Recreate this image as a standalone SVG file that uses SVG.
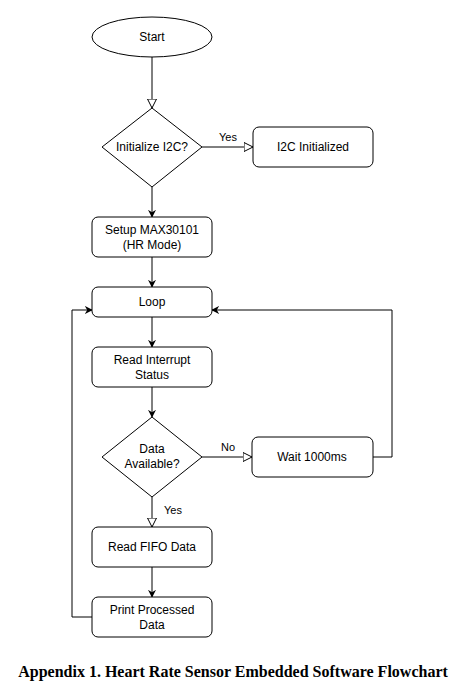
<svg xmlns="http://www.w3.org/2000/svg" width="464" height="684" viewBox="0 0 464 684">
<style>
.n{fill:#fff;stroke:#000;stroke-width:1}
.t{font-family:"Liberation Sans",Arial,sans-serif;font-size:12px;fill:#000;text-anchor:middle;dominant-baseline:central}
.l{font-family:"Liberation Sans",Arial,sans-serif;font-size:11px;fill:#000;text-anchor:middle;dominant-baseline:central}
.c{fill:none;stroke:#000;stroke-width:1}
.cap{font-family:"Liberation Serif","Times New Roman",serif;font-size:16px;font-weight:bold;fill:#000;text-anchor:middle}
</style>
<defs>
<marker id="fa" viewBox="0 0 10 10" refX="9" refY="5" markerWidth="8" markerHeight="8" markerUnits="userSpaceOnUse" orient="auto">
<path d="M0,0 L10,5 L0,10 L3,5 Z" fill="#000"/>
</marker>
<marker id="oa" viewBox="0 0 10 10" refX="9.5" refY="5" markerWidth="10" markerHeight="10" markerUnits="userSpaceOnUse" orient="auto">
<path d="M0.5,0.5 L9.5,5 L0.5,9.5 Z" fill="#fff" stroke="#000" stroke-width="1"/>
</marker>
</defs>
<rect width="464" height="684" fill="#fff"/>
<g id="connectors">
<path class="c" d="M152,57 V108" marker-end="url(#oa)"/>
<path class="c" d="M202,147 H253" marker-end="url(#oa)"/>
<path class="c" d="M152,187 V217" marker-end="url(#fa)"/>
<path class="c" d="M152,257 V287" marker-end="url(#fa)"/>
<path class="c" d="M152,317 V347" marker-end="url(#fa)"/>
<path class="c" d="M152,387 V417" marker-end="url(#fa)"/>
<path class="c" d="M202,457 H252" marker-end="url(#oa)"/>
<path class="c" d="M373,457 H392 V310 H212" marker-end="url(#fa)"/>
<path class="c" d="M152,497 V527" marker-end="url(#oa)"/>
<path class="c" d="M152,567 V597" marker-end="url(#fa)"/>
<path class="c" d="M92,617 H72 V310 H92" marker-end="url(#fa)"/>
<text class="l" x="228" y="137">Yes</text>
<text class="l" x="228" y="447">No</text>
<text class="l" x="173" y="510">Yes</text>
</g>
<g id="start"><ellipse class="n" cx="152" cy="37" rx="60" ry="20"/><text class="t" x="152" y="37">Start</text></g>
<g id="init"><path class="n" d="M152,108 L202,147 L152,187 L102,147 Z"/><text class="t" x="152" y="147">Initialize I2C?</text></g>
<g id="i2cok"><rect class="n" x="253" y="127" width="120" height="40" rx="6"/><text class="t" x="313" y="147">I2C Initialized</text></g>
<g id="setup"><rect class="n" x="92" y="217" width="120" height="40" rx="6"/><text class="t" x="152" y="230">Setup MAX30101</text><text class="t" x="152" y="245">(HR Mode)</text></g>
<g id="loop"><rect class="n" x="92" y="287" width="120" height="30" rx="6"/><text class="t" x="152" y="302">Loop</text></g>
<g id="readint"><rect class="n" x="92" y="347" width="120" height="40" rx="6"/><text class="t" x="152" y="360">Read Interrupt</text><text class="t" x="152" y="375">Status</text></g>
<g id="avail"><path class="n" d="M152,417 L202,457 L152,497 L102,457 Z"/><text class="t" x="152" y="449">Data</text><text class="t" x="152" y="464">Available?</text></g>
<g id="wait"><rect class="n" x="252" y="437" width="121" height="40" rx="6"/><text class="t" x="312" y="457">Wait 1000ms</text></g>
<g id="fifo"><rect class="n" x="92" y="527" width="120" height="40" rx="6"/><text class="t" x="152" y="547">Read FIFO Data</text></g>
<g id="print"><rect class="n" x="92" y="597" width="120" height="40" rx="6"/><text class="t" x="152" y="610">Print Processed</text><text class="t" x="152" y="625">Data</text></g>
<text class="cap" x="233" y="677">Appendix 1. Heart Rate Sensor Embedded Software Flowchart</text>
</svg>
